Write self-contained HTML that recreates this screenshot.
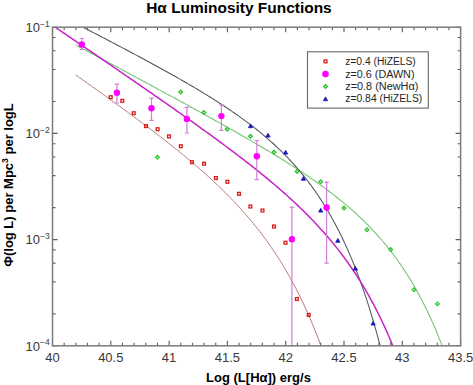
<!DOCTYPE html>
<html><head><meta charset="utf-8"><style>
html,body{margin:0;padding:0;background:#fff;}
svg{display:block;font-family:"Liberation Sans",sans-serif;}
</style></head><body>
<svg width="473" height="385" viewBox="0 0 473 385">
<defs><clipPath id="c"><rect x="52.5" y="27.2" width="408.09999999999997" height="318.6"/></clipPath></defs>
<g clip-path="url(#c)" fill="none">
<path d="M75.82,75.02 L77.11,75.93 L78.39,76.84 L79.68,77.75 L80.97,78.65 L82.25,79.56 L83.54,80.47 L84.83,81.38 L86.12,82.29 L87.40,83.21 L88.69,84.12 L89.98,85.03 L91.26,85.94 L92.55,86.86 L93.84,87.77 L95.12,88.69 L96.41,89.61 L97.70,90.52 L98.98,91.44 L100.27,92.36 L101.56,93.28 L102.84,94.20 L104.13,95.12 L105.42,96.05 L106.71,96.97 L107.99,97.89 L109.28,98.82 L110.57,99.75 L111.85,100.67 L113.14,101.60 L114.43,102.53 L115.71,103.46 L117.00,104.39 L118.29,105.33 L119.57,106.26 L120.86,107.20 L122.15,108.13 L123.43,109.07 L124.72,110.01 L126.01,110.95 L127.30,111.89 L128.58,112.84 L129.87,113.78 L131.16,114.73 L132.44,115.68 L133.73,116.63 L135.02,117.58 L136.30,118.53 L137.59,119.49 L138.88,120.45 L140.16,121.40 L141.45,122.36 L142.74,123.33 L144.03,124.29 L145.31,125.26 L146.60,126.23 L147.89,127.20 L149.17,128.17 L150.46,129.14 L151.75,130.12 L153.03,131.10 L154.32,132.08 L155.61,133.07 L156.89,134.06 L158.18,135.05 L159.47,136.04 L160.75,137.03 L162.04,138.03 L163.33,139.03 L164.62,140.04 L165.90,141.04 L167.19,142.05 L168.48,143.06 L169.76,144.08 L171.05,145.10 L172.34,146.12 L173.62,147.15 L174.91,148.18 L176.20,149.22 L177.48,150.25 L178.77,151.29 L180.06,152.34 L181.34,153.39 L182.63,154.44 L183.92,155.50 L185.21,156.57 L186.49,157.63 L187.78,158.71 L189.07,159.78 L190.35,160.86 L191.64,161.95 L192.93,163.04 L194.21,164.14 L195.50,165.24 L196.79,166.35 L198.07,167.47 L199.36,168.59 L200.65,169.71 L201.94,170.84 L203.22,171.98 L204.51,173.13 L205.80,174.28 L207.08,175.44 L208.37,176.60 L209.66,177.77 L210.94,178.95 L212.23,180.14 L213.52,181.34 L214.80,182.54 L216.09,183.75 L217.38,184.97 L218.66,186.20 L219.95,187.44 L221.24,188.69 L222.53,189.94 L223.81,191.21 L225.10,192.48 L226.39,193.77 L227.67,195.06 L228.96,196.37 L230.25,197.68 L231.53,199.01 L232.82,200.35 L234.11,201.70 L235.39,203.06 L236.68,204.44 L237.97,205.83 L239.25,207.23 L240.54,208.64 L241.83,210.07 L243.12,211.51 L244.40,212.96 L245.69,214.43 L246.98,215.92 L248.26,217.42 L249.55,218.94 L250.84,220.47 L252.12,222.02 L253.41,223.58 L254.70,225.17 L255.98,226.77 L257.27,228.39 L258.56,230.03 L259.85,231.69 L261.13,233.37 L262.42,235.06 L263.71,236.78 L264.99,238.52 L266.28,240.29 L267.57,242.07 L268.85,243.88 L270.14,245.72 L271.43,247.57 L272.71,249.45 L274.00,251.36 L275.29,253.30 L276.57,255.26 L277.86,257.25 L279.15,259.26 L280.44,261.31 L281.72,263.38 L283.01,265.49 L284.30,267.63 L285.58,269.80 L286.87,272.00 L288.16,274.24 L289.44,276.51 L290.73,278.82 L292.02,281.16 L293.30,283.55 L294.59,285.97 L295.88,288.43 L297.17,290.93 L298.45,293.47 L299.74,296.05 L301.03,298.68 L302.31,301.35 L303.60,304.07 L304.89,306.84 L306.17,309.65 L307.46,312.52 L308.75,315.43 L310.03,318.40 L311.32,321.42 L312.61,324.50 L313.89,327.63 L315.18,330.82 L316.47,334.07 L317.76,337.38 L319.04,340.75 L320.33,344.19 L321.62,347.69 L322.90,351.26 L324.19,354.90 L325.48,358.61 L326.76,362.39 L328.05,366.25 L329.34,370.18 L330.62,374.19 L331.91,378.28 L333.20,382.46 L334.48,386.72 L335.77,391.06 L337.06,395.50 L338.35,400.03 L339.63,404.65 L340.92,409.36 L342.21,414.18 L343.49,419.09 L344.78,424.11 L346.07,429.24 L347.35,434.48 L348.64,439.82 L349.93,445.29 L351.21,450.87 L352.50,456.57 L353.79,462.39 L355.08,468.34 L356.36,474.42 L357.65,480.64 L358.94,486.99 L360.22,493.49 L361.51,500.13 L362.80,506.91 L364.08,513.85 L365.37,520.94 L366.66,528.20 L367.94,535.62 L369.23,543.20 L370.52,550.96 L371.80,558.89 L373.09,567.01 L374.38,575.31 L375.67,583.81 L376.95,592.50 L378.24,601.39 L379.53,610.48 L380.81,619.79 L382.10,629.31 L383.39,639.06 L384.67,649.03 L385.96,659.24 L387.25,669.69 L388.53,680.39 L389.82,691.33 L391.11,702.54 L392.39,714.01 L393.68,725.76 L394.97,737.78 L396.26,750.09 L397.54,762.69 L398.83,775.60 L400.12,788.82 L401.40,802.35 L402.69,816.21 L403.98,830.40 L405.26,844.93 L406.55,859.82 L407.84,875.06 L409.12,890.68 L410.41,906.68 L411.70,923.06 L412.99,939.84 L414.27,957.03 L415.56,974.65 L416.85,992.69 L418.13,1011.17 L419.42,1030.11 L420.71,1049.51 L421.99,1069.39 L423.28,1089.75 L424.57,1110.62 L425.85,1132.00 L427.14,1153.91 L428.43,1176.37 L429.71,1199.37 L431.00,1222.95 L432.29,1247.11 L433.58,1271.86 L434.86,1297.24 L436.15,1323.24 L437.44,1349.89 L438.72,1377.20 L440.01,1405.20 L441.30,1433.89 L442.58,1463.29 L443.87,1493.43 L445.16,1524.33 L446.44,1555.99 L447.73,1588.45 L449.02,1621.72 L450.30,1655.83 L451.59,1690.79 L452.88,1726.62 L454.17,1763.36 L455.45,1801.02 L456.74,1839.62 L458.03,1879.20 L459.31,1919.77 L460.60,1961.36" stroke="#b07a78" stroke-width="1"/>
<path d="M75.82,44.97 L77.11,45.66 L78.39,46.35 L79.68,47.04 L80.97,47.72 L82.25,48.41 L83.54,49.10 L84.83,49.79 L86.12,50.48 L87.40,51.17 L88.69,51.86 L89.98,52.54 L91.26,53.23 L92.55,53.92 L93.84,54.61 L95.12,55.30 L96.41,55.99 L97.70,56.68 L98.98,57.37 L100.27,58.06 L101.56,58.75 L102.84,59.44 L104.13,60.13 L105.42,60.82 L106.71,61.51 L107.99,62.20 L109.28,62.89 L110.57,63.58 L111.85,64.27 L113.14,64.96 L114.43,65.65 L115.71,66.34 L117.00,67.03 L118.29,67.72 L119.57,68.41 L120.86,69.10 L122.15,69.80 L123.43,70.49 L124.72,71.18 L126.01,71.87 L127.30,72.56 L128.58,73.25 L129.87,73.95 L131.16,74.64 L132.44,75.33 L133.73,76.02 L135.02,76.71 L136.30,77.41 L137.59,78.10 L138.88,78.79 L140.16,79.49 L141.45,80.18 L142.74,80.87 L144.03,81.57 L145.31,82.26 L146.60,82.96 L147.89,83.65 L149.17,84.34 L150.46,85.04 L151.75,85.73 L153.03,86.43 L154.32,87.12 L155.61,87.82 L156.89,88.52 L158.18,89.21 L159.47,89.91 L160.75,90.61 L162.04,91.30 L163.33,92.00 L164.62,92.70 L165.90,93.39 L167.19,94.09 L168.48,94.79 L169.76,95.49 L171.05,96.19 L172.34,96.89 L173.62,97.59 L174.91,98.29 L176.20,98.99 L177.48,99.69 L178.77,100.39 L180.06,101.09 L181.34,101.79 L182.63,102.50 L183.92,103.20 L185.21,103.90 L186.49,104.60 L187.78,105.31 L189.07,106.01 L190.35,106.72 L191.64,107.42 L192.93,108.13 L194.21,108.83 L195.50,109.54 L196.79,110.25 L198.07,110.96 L199.36,111.66 L200.65,112.37 L201.94,113.08 L203.22,113.79 L204.51,114.50 L205.80,115.21 L207.08,115.93 L208.37,116.64 L209.66,117.35 L210.94,118.07 L212.23,118.78 L213.52,119.50 L214.80,120.21 L216.09,120.93 L217.38,121.65 L218.66,122.37 L219.95,123.09 L221.24,123.81 L222.53,124.53 L223.81,125.25 L225.10,125.97 L226.39,126.70 L227.67,127.42 L228.96,128.15 L230.25,128.87 L231.53,129.60 L232.82,130.33 L234.11,131.06 L235.39,131.79 L236.68,132.52 L237.97,133.26 L239.25,133.99 L240.54,134.73 L241.83,135.46 L243.12,136.20 L244.40,136.94 L245.69,137.68 L246.98,138.43 L248.26,139.17 L249.55,139.91 L250.84,140.66 L252.12,141.41 L253.41,142.16 L254.70,142.91 L255.98,143.67 L257.27,144.42 L258.56,145.18 L259.85,145.94 L261.13,146.70 L262.42,147.46 L263.71,148.22 L264.99,148.99 L266.28,149.76 L267.57,150.53 L268.85,151.30 L270.14,152.08 L271.43,152.86 L272.71,153.64 L274.00,154.42 L275.29,155.20 L276.57,155.99 L277.86,156.78 L279.15,157.57 L280.44,158.37 L281.72,159.16 L283.01,159.96 L284.30,160.77 L285.58,161.58 L286.87,162.38 L288.16,163.20 L289.44,164.01 L290.73,164.83 L292.02,165.66 L293.30,166.48 L294.59,167.31 L295.88,168.15 L297.17,168.98 L298.45,169.83 L299.74,170.67 L301.03,171.52 L302.31,172.38 L303.60,173.23 L304.89,174.10 L306.17,174.96 L307.46,175.83 L308.75,176.71 L310.03,177.59 L311.32,178.48 L312.61,179.37 L313.89,180.27 L315.18,181.17 L316.47,182.08 L317.76,182.99 L319.04,183.91 L320.33,184.84 L321.62,185.77 L322.90,186.70 L324.19,187.65 L325.48,188.60 L326.76,189.56 L328.05,190.52 L329.34,191.49 L330.62,192.47 L331.91,193.46 L333.20,194.45 L334.48,195.46 L335.77,196.47 L337.06,197.49 L338.35,198.51 L339.63,199.55 L340.92,200.59 L342.21,201.65 L343.49,202.71 L344.78,203.79 L346.07,204.87 L347.35,205.96 L348.64,207.07 L349.93,208.18 L351.21,209.31 L352.50,210.45 L353.79,211.59 L355.08,212.76 L356.36,213.93 L357.65,215.11 L358.94,216.31 L360.22,217.52 L361.51,218.75 L362.80,219.99 L364.08,221.24 L365.37,222.51 L366.66,223.79 L367.94,225.09 L369.23,226.40 L370.52,227.73 L371.80,229.08 L373.09,230.44 L374.38,231.83 L375.67,233.22 L376.95,234.64 L378.24,236.08 L379.53,237.53 L380.81,239.01 L382.10,240.50 L383.39,242.02 L384.67,243.56 L385.96,245.12 L387.25,246.70 L388.53,248.30 L389.82,249.93 L391.11,251.58 L392.39,253.26 L393.68,254.97 L394.97,256.70 L396.26,258.45 L397.54,260.24 L398.83,262.05 L400.12,263.89 L401.40,265.76 L402.69,267.66 L403.98,269.59 L405.26,271.56 L406.55,273.55 L407.84,275.59 L409.12,277.65 L410.41,279.75 L411.70,281.89 L412.99,284.07 L414.27,286.28 L415.56,288.53 L416.85,290.83 L418.13,293.16 L419.42,295.54 L420.71,297.96 L421.99,300.42 L423.28,302.93 L424.57,305.49 L425.85,308.10 L427.14,310.75 L428.43,313.46 L429.71,316.22 L431.00,319.03 L432.29,321.89 L433.58,324.81 L434.86,327.79 L436.15,330.83 L437.44,333.93 L438.72,337.09 L440.01,340.32 L441.30,343.61 L442.58,346.97 L443.87,350.39 L445.16,353.89 L446.44,357.46 L447.73,361.10 L449.02,364.82 L450.30,368.62 L451.59,372.49 L452.88,376.45 L454.17,380.50 L455.45,384.63 L456.74,388.85 L458.03,393.16 L459.31,397.56 L460.60,402.06" stroke="#72c272" stroke-width="1.05"/>
<path d="M52.50,11.56 L53.86,12.26 L55.23,12.96 L56.59,13.66 L57.96,14.36 L59.32,15.06 L60.69,15.76 L62.05,16.46 L63.42,17.16 L64.78,17.86 L66.15,18.56 L67.51,19.26 L68.88,19.96 L70.24,20.67 L71.61,21.37 L72.97,22.07 L74.34,22.77 L75.70,23.48 L77.07,24.18 L78.43,24.88 L79.80,25.59 L81.16,26.29 L82.53,27.00 L83.89,27.70 L85.26,28.41 L86.62,29.11 L87.99,29.82 L89.35,30.53 L90.72,31.23 L92.08,31.94 L93.45,32.65 L94.81,33.36 L96.18,34.07 L97.54,34.78 L98.91,35.49 L100.27,36.20 L101.64,36.91 L103.00,37.62 L104.37,38.33 L105.73,39.04 L107.10,39.75 L108.46,40.47 L109.83,41.18 L111.19,41.90 L112.55,42.61 L113.92,43.33 L115.28,44.04 L116.65,44.76 L118.01,45.48 L119.38,46.19 L120.74,46.91 L122.11,47.63 L123.47,48.35 L124.84,49.08 L126.20,49.80 L127.57,50.52 L128.93,51.24 L130.30,51.97 L131.66,52.69 L133.03,53.42 L134.39,54.15 L135.76,54.88 L137.12,55.60 L138.49,56.33 L139.85,57.07 L141.22,57.80 L142.58,58.53 L143.95,59.27 L145.31,60.00 L146.68,60.74 L148.04,61.48 L149.41,62.22 L150.77,62.96 L152.14,63.70 L153.50,64.44 L154.87,65.19 L156.23,65.93 L157.60,66.68 L158.96,67.43 L160.33,68.18 L161.69,68.93 L163.06,69.69 L164.42,70.44 L165.79,71.20 L167.15,71.96 L168.52,72.72 L169.88,73.48 L171.24,74.25 L172.61,75.01 L173.97,75.78 L175.34,76.55 L176.70,77.32 L178.07,78.10 L179.43,78.88 L180.80,79.66 L182.16,80.44 L183.53,81.22 L184.89,82.01 L186.26,82.80 L187.62,83.59 L188.99,84.39 L190.35,85.19 L191.72,85.99 L193.08,86.79 L194.45,87.60 L195.81,88.41 L197.18,89.22 L198.54,90.04 L199.91,90.85 L201.27,91.68 L202.64,92.50 L204.00,93.34 L205.37,94.17 L206.73,95.01 L208.10,95.85 L209.46,96.70 L210.83,97.55 L212.19,98.40 L213.56,99.26 L214.92,100.12 L216.29,100.99 L217.65,101.87 L219.02,102.74 L220.38,103.63 L221.75,104.52 L223.11,105.41 L224.48,106.31 L225.84,107.21 L227.21,108.12 L228.57,109.04 L229.93,109.96 L231.30,110.89 L232.66,111.83 L234.03,112.77 L235.39,113.72 L236.76,114.68 L238.12,115.64 L239.49,116.61 L240.85,117.59 L242.22,118.57 L243.58,119.57 L244.95,120.57 L246.31,121.58 L247.68,122.60 L249.04,123.63 L250.41,124.67 L251.77,125.71 L253.14,126.77 L254.50,127.84 L255.87,128.92 L257.23,130.00 L258.60,131.10 L259.96,132.21 L261.33,133.33 L262.69,134.46 L264.06,135.61 L265.42,136.77 L266.79,137.93 L268.15,139.12 L269.52,140.31 L270.88,141.52 L272.25,142.75 L273.61,143.99 L274.98,145.24 L276.34,146.51 L277.71,147.79 L279.07,149.09 L280.44,150.41 L281.80,151.74 L283.17,153.10 L284.53,154.47 L285.89,155.85 L287.26,157.26 L288.62,158.69 L289.99,160.14 L291.35,161.60 L292.72,163.09 L294.08,164.60 L295.45,166.14 L296.81,167.69 L298.18,169.27 L299.54,170.88 L300.91,172.50 L302.27,174.16 L303.64,175.84 L305.00,177.55 L306.37,179.28 L307.73,181.05 L309.10,182.84 L310.46,184.66 L311.83,186.52 L313.19,188.40 L314.56,190.32 L315.92,192.27 L317.29,194.26 L318.65,196.28 L320.02,198.34 L321.38,200.43 L322.75,202.57 L324.11,204.74 L325.48,206.95 L326.84,209.21 L328.21,211.51 L329.57,213.85 L330.94,216.23 L332.30,218.67 L333.67,221.15 L335.03,223.68 L336.40,226.25 L337.76,228.89 L339.13,231.57 L340.49,234.31 L341.86,237.10 L343.22,239.95 L344.58,242.86 L345.95,245.84 L347.31,248.87 L348.68,251.97 L350.04,255.13 L351.41,258.36 L352.77,261.66 L354.14,265.03 L355.50,268.48 L356.87,272.00 L358.23,275.59 L359.60,279.27 L360.96,283.03 L362.33,286.87 L363.69,290.80 L365.06,294.81 L366.42,298.92 L367.79,303.12 L369.15,307.41 L370.52,311.81 L371.88,316.30 L373.25,320.90 L374.61,325.61 L375.98,330.43 L377.34,335.35 L378.71,340.40 L380.07,345.56 L381.44,350.85 L382.80,356.26 L384.17,361.80 L385.53,367.47 L386.90,373.28 L388.26,379.22 L389.63,385.32 L390.99,391.55 L392.36,397.94 L393.72,404.49 L395.09,411.20 L396.45,418.07 L397.82,425.11 L399.18,432.32 L400.55,439.71 L401.91,447.28 L403.27,455.04 L404.64,463.00 L406.00,471.15 L407.37,479.51 L408.73,488.08 L410.10,496.86 L411.46,505.86 L412.83,515.09 L414.19,524.55 L415.56,534.25 L416.92,544.20 L418.29,554.40 L419.65,564.86 L421.02,575.59 L422.38,586.59 L423.75,597.88 L425.11,609.45 L426.48,621.32 L427.84,633.50 L429.21,645.99 L430.57,658.80 L431.94,671.94 L433.30,685.43 L434.67,699.26 L436.03,713.45 L437.40,728.01 L438.76,742.95 L440.13,758.28 L441.49,774.01 L442.86,790.15 L444.22,806.71 L445.59,823.70 L446.95,841.14 L448.32,859.04 L449.68,877.41 L451.05,896.26 L452.41,915.60 L453.78,935.46 L455.14,955.84 L456.51,976.76 L457.87,998.23 L459.24,1020.27 L460.60,1042.89" stroke="#52525e" stroke-width="1.05"/>
<path d="M52.50,25.35 L53.86,26.28 L55.23,27.21 L56.59,28.14 L57.96,29.07 L59.32,30.00 L60.69,30.93 L62.05,31.86 L63.42,32.79 L64.78,33.72 L66.15,34.65 L67.51,35.58 L68.88,36.51 L70.24,37.45 L71.61,38.38 L72.97,39.31 L74.34,40.24 L75.70,41.17 L77.07,42.10 L78.43,43.03 L79.80,43.96 L81.16,44.90 L82.53,45.83 L83.89,46.76 L85.26,47.69 L86.62,48.63 L87.99,49.56 L89.35,50.49 L90.72,51.42 L92.08,52.36 L93.45,53.29 L94.81,54.22 L96.18,55.16 L97.54,56.09 L98.91,57.02 L100.27,57.96 L101.64,58.89 L103.00,59.83 L104.37,60.76 L105.73,61.70 L107.10,62.63 L108.46,63.57 L109.83,64.50 L111.19,65.44 L112.55,66.38 L113.92,67.31 L115.28,68.25 L116.65,69.19 L118.01,70.12 L119.38,71.06 L120.74,72.00 L122.11,72.94 L123.47,73.88 L124.84,74.81 L126.20,75.75 L127.57,76.69 L128.93,77.63 L130.30,78.57 L131.66,79.51 L133.03,80.45 L134.39,81.40 L135.76,82.34 L137.12,83.28 L138.49,84.22 L139.85,85.16 L141.22,86.11 L142.58,87.05 L143.95,88.00 L145.31,88.94 L146.68,89.89 L148.04,90.83 L149.41,91.78 L150.77,92.72 L152.14,93.67 L153.50,94.62 L154.87,95.57 L156.23,96.52 L157.60,97.47 L158.96,98.42 L160.33,99.37 L161.69,100.32 L163.06,101.27 L164.42,102.22 L165.79,103.18 L167.15,104.13 L168.52,105.09 L169.88,106.04 L171.24,107.00 L172.61,107.96 L173.97,108.92 L175.34,109.88 L176.70,110.84 L178.07,111.80 L179.43,112.76 L180.80,113.72 L182.16,114.69 L183.53,115.65 L184.89,116.62 L186.26,117.58 L187.62,118.55 L188.99,119.52 L190.35,120.49 L191.72,121.46 L193.08,122.44 L194.45,123.41 L195.81,124.39 L197.18,125.36 L198.54,126.34 L199.91,127.32 L201.27,128.30 L202.64,129.28 L204.00,130.27 L205.37,131.25 L206.73,132.24 L208.10,133.23 L209.46,134.22 L210.83,135.21 L212.19,136.21 L213.56,137.20 L214.92,138.20 L216.29,139.20 L217.65,140.20 L219.02,141.20 L220.38,142.21 L221.75,143.22 L223.11,144.23 L224.48,145.24 L225.84,146.26 L227.21,147.27 L228.57,148.29 L229.93,149.31 L231.30,150.34 L232.66,151.37 L234.03,152.40 L235.39,153.43 L236.76,154.47 L238.12,155.51 L239.49,156.55 L240.85,157.59 L242.22,158.64 L243.58,159.69 L244.95,160.75 L246.31,161.81 L247.68,162.87 L249.04,163.93 L250.41,165.00 L251.77,166.08 L253.14,167.16 L254.50,168.24 L255.87,169.32 L257.23,170.41 L258.60,171.51 L259.96,172.61 L261.33,173.71 L262.69,174.82 L264.06,175.94 L265.42,177.05 L266.79,178.18 L268.15,179.31 L269.52,180.44 L270.88,181.58 L272.25,182.73 L273.61,183.88 L274.98,185.04 L276.34,186.21 L277.71,187.38 L279.07,188.56 L280.44,189.74 L281.80,190.94 L283.17,192.14 L284.53,193.34 L285.89,194.56 L287.26,195.78 L288.62,197.01 L289.99,198.25 L291.35,199.50 L292.72,200.76 L294.08,202.02 L295.45,203.30 L296.81,204.58 L298.18,205.87 L299.54,207.18 L300.91,208.49 L302.27,209.82 L303.64,211.15 L305.00,212.50 L306.37,213.86 L307.73,215.23 L309.10,216.61 L310.46,218.01 L311.83,219.41 L313.19,220.84 L314.56,222.27 L315.92,223.72 L317.29,225.18 L318.65,226.66 L320.02,228.15 L321.38,229.66 L322.75,231.18 L324.11,232.72 L325.48,234.28 L326.84,235.85 L328.21,237.44 L329.57,239.05 L330.94,240.68 L332.30,242.33 L333.67,243.99 L335.03,245.68 L336.40,247.39 L337.76,249.12 L339.13,250.87 L340.49,252.64 L341.86,254.44 L343.22,256.26 L344.58,258.10 L345.95,259.97 L347.31,261.87 L348.68,263.79 L350.04,265.74 L351.41,267.72 L352.77,269.72 L354.14,271.76 L355.50,273.83 L356.87,275.92 L358.23,278.05 L359.60,280.21 L360.96,282.41 L362.33,284.64 L363.69,286.91 L365.06,289.21 L366.42,291.55 L367.79,293.93 L369.15,296.35 L370.52,298.80 L371.88,301.30 L373.25,303.85 L374.61,306.44 L375.98,309.07 L377.34,311.75 L378.71,314.48 L380.07,317.26 L381.44,320.08 L382.80,322.96 L384.17,325.90 L385.53,328.88 L386.90,331.93 L388.26,335.03 L389.63,338.19 L390.99,341.41 L392.36,344.70 L393.72,348.05 L395.09,351.47 L396.45,354.95 L397.82,358.50 L399.18,362.13 L400.55,365.83 L401.91,369.60 L403.27,373.45 L404.64,377.39 L406.00,381.40 L407.37,385.50 L408.73,389.69 L410.10,393.96 L411.46,398.33 L412.83,402.79 L414.19,407.35 L415.56,412.00 L416.92,416.76 L418.29,421.62 L419.65,426.59 L421.02,431.67 L422.38,436.87 L423.75,442.18 L425.11,447.61 L426.48,453.16 L427.84,458.84 L429.21,464.65 L430.57,470.59 L431.94,476.67 L433.30,482.89 L434.67,489.26 L436.03,495.77 L437.40,502.44 L438.76,509.26 L440.13,516.25 L441.49,523.40 L442.86,530.72 L444.22,538.21 L445.59,545.89 L446.95,553.75 L448.32,561.80 L449.68,570.04 L451.05,578.48 L452.41,587.13 L453.78,595.99 L455.14,605.06 L456.51,614.36 L457.87,623.89 L459.24,633.65 L460.60,643.65" stroke="#c424c6" stroke-width="1.5"/>
</g>
<g stroke="#d27fd8" stroke-width="1.2" fill="none">
<path d="M81.8,38.5V49.5M79.6,38.5h4.4M79.6,49.5h4.4"/>
<path d="M116.9,84.2V103.0M114.7,84.2h4.4M114.7,103.0h4.4"/>
<path d="M151.5,98.1V120.3M149.3,98.1h4.4M149.3,120.3h4.4"/>
<path d="M186.9,107.3V133.0M184.7,107.3h4.4M184.7,133.0h4.4"/>
<path d="M221.4,104.9V130.3M219.2,104.9h4.4M219.2,130.3h4.4"/>
<path d="M256.8,140.5V179.7M254.6,140.5h4.4M254.6,179.7h4.4"/>
<path d="M291.9,207.1V345.6M289.7,207.1h4.4M289.7,345.6h4.4"/>
<path d="M326.6,182.2V263.2M324.4,182.2h4.4M324.4,263.2h4.4"/>
</g>
<g fill="#ff00ff">
<circle cx="81.8" cy="44.5" r="3.2"/>
<circle cx="116.9" cy="92.7" r="3.2"/>
<circle cx="151.5" cy="108.2" r="3.2"/>
<circle cx="186.9" cy="118.9" r="3.2"/>
<circle cx="221.4" cy="116.1" r="3.2"/>
<circle cx="256.8" cy="156.3" r="3.2"/>
<circle cx="291.9" cy="239.3" r="3.2"/>
<circle cx="326.6" cy="207.5" r="3.2"/>
</g>
<g fill="none" stroke="#d81a1a" stroke-width="1.3">
<rect x="109.3" y="95.8" width="2.8" height="2.8"/>
<rect x="120.9" y="99.4" width="2.8" height="2.8"/>
<rect x="132.3" y="111.8" width="2.8" height="2.8"/>
<rect x="144.6" y="124.7" width="2.8" height="2.8"/>
<rect x="156.2" y="127.8" width="2.8" height="2.8"/>
<rect x="167.6" y="135.0" width="2.8" height="2.8"/>
<rect x="179.4" y="144.8" width="2.8" height="2.8"/>
<rect x="190.6" y="160.8" width="2.8" height="2.8"/>
<rect x="202.7" y="162.3" width="2.8" height="2.8"/>
<rect x="214.5" y="176.6" width="2.8" height="2.8"/>
<rect x="226.0" y="180.4" width="2.8" height="2.8"/>
<rect x="237.6" y="192.4" width="2.8" height="2.8"/>
<rect x="249.0" y="205.1" width="2.8" height="2.8"/>
<rect x="261.1" y="209.1" width="2.8" height="2.8"/>
<rect x="272.6" y="225.1" width="2.8" height="2.8"/>
<rect x="284.1" y="241.3" width="2.8" height="2.8"/>
<rect x="295.5" y="297.6" width="2.8" height="2.8"/>
<rect x="307.3" y="313.5" width="2.8" height="2.8"/>
</g>
<g fill="none" stroke="#2ac42a" stroke-width="1.3">
<path d="M180.7,90.2L182.5,92.0L180.7,93.8L178.9,92.0Z"/>
<path d="M157.4,155.5L159.2,157.3L157.4,159.1L155.6,157.3Z"/>
<path d="M203.8,110.7L205.6,112.5L203.8,114.3L202.0,112.5Z"/>
<path d="M227.1,127.4L228.9,129.2L227.1,131.0L225.3,129.2Z"/>
<path d="M250.5,134.4L252.3,136.2L250.5,138.0L248.7,136.2Z"/>
<path d="M274.0,150.4L275.8,152.2L274.0,154.0L272.2,152.2Z"/>
<path d="M297.1,169.7L298.9,171.5L297.1,173.3L295.3,171.5Z"/>
<path d="M320.7,180.0L322.5,181.8L320.7,183.6L318.9,181.8Z"/>
<path d="M344.0,206.2L345.8,208.0L344.0,209.8L342.2,208.0Z"/>
<path d="M367.0,228.0L368.8,229.8L367.0,231.6L365.2,229.8Z"/>
<path d="M390.7,247.7L392.5,249.5L390.7,251.3L388.9,249.5Z"/>
<path d="M414.0,288.0L415.8,289.8L414.0,291.6L412.2,289.8Z"/>
<path d="M437.4,302.1L439.2,303.9L437.4,305.7L435.6,303.9Z"/>
</g>
<g fill="#1c1cc0" stroke="#1616b4" stroke-width="0.8" stroke-linejoin="round">
<path d="M250.5,123.9L252.6,127.7L248.4,127.7Z"/>
<path d="M268.0,133.3L270.1,137.1L265.9,137.1Z"/>
<path d="M285.6,150.3L287.7,154.1L283.5,154.1Z"/>
<path d="M303.4,176.5L305.5,180.3L301.3,180.3Z"/>
<path d="M320.7,208.3L322.8,212.1L318.6,212.1Z"/>
<path d="M337.8,238.5L339.9,242.3L335.7,242.3Z"/>
<path d="M355.4,266.3L357.5,270.1L353.3,270.1Z"/>
<path d="M373.1,321.2L375.2,325.0L371.0,325.0Z"/>
</g>
<path d="M52.50,345.8v-5M52.50,27.2v5M64.16,345.8v-3M64.16,27.2v3M75.82,345.8v-3M75.82,27.2v3M87.48,345.8v-3M87.48,27.2v3M99.14,345.8v-3M99.14,27.2v3M110.80,345.8v-5M110.80,27.2v5M122.46,345.8v-3M122.46,27.2v3M134.12,345.8v-3M134.12,27.2v3M145.78,345.8v-3M145.78,27.2v3M157.44,345.8v-3M157.44,27.2v3M169.10,345.8v-5M169.10,27.2v5M180.76,345.8v-3M180.76,27.2v3M192.42,345.8v-3M192.42,27.2v3M204.08,345.8v-3M204.08,27.2v3M215.74,345.8v-3M215.74,27.2v3M227.40,345.8v-5M227.40,27.2v5M239.06,345.8v-3M239.06,27.2v3M250.72,345.8v-3M250.72,27.2v3M262.38,345.8v-3M262.38,27.2v3M274.04,345.8v-3M274.04,27.2v3M285.70,345.8v-5M285.70,27.2v5M297.36,345.8v-3M297.36,27.2v3M309.02,345.8v-3M309.02,27.2v3M320.68,345.8v-3M320.68,27.2v3M332.34,345.8v-3M332.34,27.2v3M344.00,345.8v-5M344.00,27.2v5M355.66,345.8v-3M355.66,27.2v3M367.32,345.8v-3M367.32,27.2v3M378.98,345.8v-3M378.98,27.2v3M390.64,345.8v-3M390.64,27.2v3M402.30,345.8v-5M402.30,27.2v5M413.96,345.8v-3M413.96,27.2v3M425.62,345.8v-3M425.62,27.2v3M437.28,345.8v-3M437.28,27.2v3M448.94,345.8v-3M448.94,27.2v3M460.60,345.8v-5M460.60,27.2v5M52.5,345.80h5M460.60,345.80h-5M52.5,313.83h3M460.60,313.83h-3M52.5,281.86h3M460.60,281.86h-3M52.5,263.16h3M460.60,263.16h-3M52.5,249.89h3M460.60,249.89h-3M52.5,239.60h5M460.60,239.60h-5M52.5,207.63h3M460.60,207.63h-3M52.5,175.66h3M460.60,175.66h-3M52.5,156.96h3M460.60,156.96h-3M52.5,143.69h3M460.60,143.69h-3M52.5,133.40h5M460.60,133.40h-5M52.5,101.43h3M460.60,101.43h-3M52.5,69.46h3M460.60,69.46h-3M52.5,50.76h3M460.60,50.76h-3M52.5,37.49h3M460.60,37.49h-3M52.5,27.20h5M460.60,27.20h-5" stroke="#5a5a5a" stroke-width="1.1" fill="none"/>
<rect x="52.5" y="27.2" width="408.10" height="318.60" fill="none" stroke="#7c7c7c" stroke-width="1.5"/>
<rect x="307.5" y="51.8" width="120.8" height="56.3" fill="#fff" stroke="#666" stroke-width="1.1"/>
<rect x="324.1" y="60.0" width="2.8" height="2.8" fill="none" stroke="#d81a1a" stroke-width="1.3"/>
<circle cx="325.5" cy="74.1" r="3.3" fill="#ff00ff"/>
<path d="M325.5,84.7L327.3,86.5L325.5,88.3L323.7,86.5Z" fill="none" stroke="#2ac42a" stroke-width="1.3"/>
<path d="M325.5,96.9L327.6,100.7L323.4,100.7Z" fill="#1c1cc0" stroke="#1616b4" stroke-width="0.8" stroke-linejoin="round"/>
<g font-size="10" fill="#262626">
<text x="345.2" y="65.3" textLength="70.6" lengthAdjust="spacingAndGlyphs">z=0.4 (HiZELS)</text>
<text x="345.2" y="77.6" textLength="69.3" lengthAdjust="spacingAndGlyphs">z=0.6 (DAWN)</text>
<text x="345.2" y="89.9" textLength="73.2" lengthAdjust="spacingAndGlyphs">z=0.8 (NewHα)</text>
<text x="345.2" y="102.2" textLength="77.1" lengthAdjust="spacingAndGlyphs">z=0.84 (HiZELS)</text>
</g>
<g font-size="13" fill="#383838" text-anchor="middle">
<text x="52.5" y="361.5">40</text>
<text x="110.8" y="361.5">40.5</text>
<text x="169.1" y="361.5">41</text>
<text x="227.4" y="361.5">41.5</text>
<text x="285.7" y="361.5">42</text>
<text x="344.0" y="361.5">42.5</text>
<text x="402.3" y="361.5">43</text>
<text x="460.6" y="361.5">43.5</text>
</g>
<g font-size="13" fill="#383838">
<text x="25.5" y="32.0">10<tspan font-size="8.5" dy="-5.5">−1</tspan></text>
<text x="25.5" y="138.2">10<tspan font-size="8.5" dy="-5.5">−2</tspan></text>
<text x="25.5" y="244.4">10<tspan font-size="8.5" dy="-5.5">−3</tspan></text>
<text x="25.5" y="350.6">10<tspan font-size="8.5" dy="-5.5">−4</tspan></text>
</g>
<text x="146.2" y="12.6" font-size="15" font-weight="bold" textLength="185.5" lengthAdjust="spacingAndGlyphs" fill="#000">Hα Luminosity Functions</text>
<text x="258.5" y="382.3" font-size="13" font-weight="bold" text-anchor="middle" fill="#000">Log (L[Hα]) erg/s</text>
<text transform="translate(12.5,185) rotate(-90)" font-size="13" font-weight="bold" text-anchor="middle" fill="#000">Φ(log L) per Mpc<tspan font-size="8.5" dy="-5">3</tspan><tspan dy="5"> per logL</tspan></text>
</svg>
</body></html>
